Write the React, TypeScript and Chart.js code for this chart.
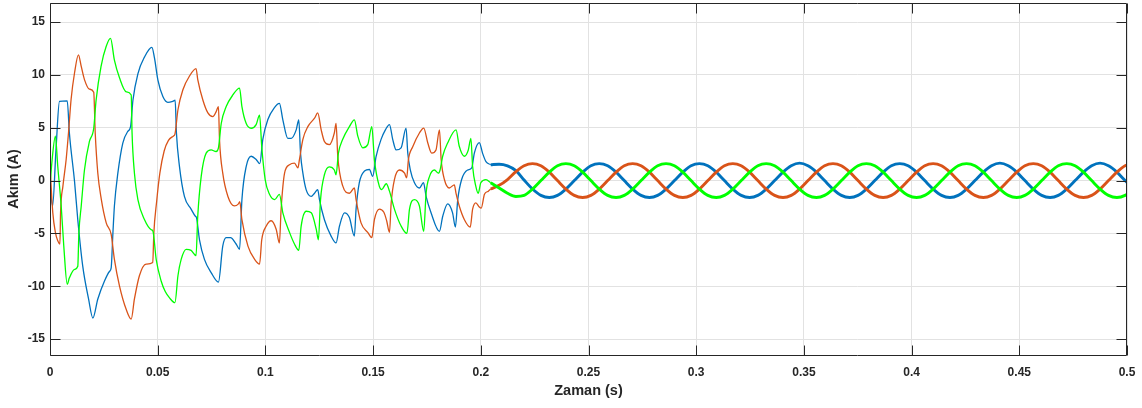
import React, { useEffect, useRef } from "react";
import { Chart, registerables } from "chart.js";

Chart.register(...registerables);

// ---- axis ticks ----
const xTickValues = [0, 0.05, 0.1, 0.15, 0.2, 0.25, 0.3, 0.35, 0.4, 0.45, 0.5];
const xTickLabels = ["0", "0.05", "0.1", "0.15", "0.2", "0.25", "0.3", "0.35", "0.4", "0.45", "0.5"];
const yTickValues = [-15, -10, -5, 0, 5, 10, 15];
const yTickLabels = ["-15", "-10", "-5", "0", "5", "10", "15"];

// ---- transient part (0 - 0.205 s) ----
const blueT = [0.0, 0.0012, 0.0028, 0.0044, 0.008, 0.009, 0.0114, 0.0129, 0.0152, 0.0179, 0.0199, 0.0222, 0.0253, 0.0276, 0.0284, 0.0292, 0.0299, 0.0315, 0.0338, 0.0361, 0.0374, 0.0385, 0.0408, 0.0439, 0.0473, 0.0485, 0.0501, 0.0524, 0.0547, 0.057, 0.0581, 0.0587, 0.0601, 0.0624, 0.0655, 0.0674, 0.068, 0.0694, 0.0717, 0.0748, 0.0782, 0.0802, 0.0818, 0.0838, 0.0864, 0.088, 0.0891, 0.0911, 0.0934, 0.0957, 0.0974, 0.0988, 0.1011, 0.1042, 0.1065, 0.1081, 0.1104, 0.112, 0.1143, 0.1155, 0.1163, 0.1174, 0.1189, 0.1213, 0.1228, 0.1243, 0.1251, 0.1274, 0.1305, 0.1328, 0.1344, 0.1367, 0.139, 0.1413, 0.1421, 0.1436, 0.146, 0.1483, 0.1498, 0.1514, 0.1537, 0.1557, 0.1576, 0.1591, 0.1607, 0.163, 0.1653, 0.1661, 0.1673, 0.1692, 0.1715, 0.1734, 0.1746, 0.1769, 0.1808, 0.1823, 0.1846, 0.1869, 0.1882, 0.1893, 0.1911, 0.1939, 0.1958, 0.197, 0.1993, 0.2008, 0.2024, 0.2046];
const blueV = [-0.4, -2.4, 3.0, 7.5, 7.55, 4.5, -0.1, -3.7, -8.1, -11.2, -13.0, -11.2, -9.5, -8.6, -8.25, -5.0, -2.4, 0.7, 3.55, 4.65, 5.1, 7.6, 10.1, 11.7, 12.6, 11.6, 9.5, 7.95, 7.4, 7.5, 7.6, 4.5, 1.35, -1.5, -2.7, -3.35, -3.5, -5.6, -7.45, -8.7, -9.6, -6.2, -5.4, -5.4, -6.0, -6.5, -1.8, 1.35, 2.3, 2.0, 1.6, 3.9, 5.75, 6.9, 7.3, 5.75, 4.0, 4.0, 4.8, 5.75, 2.6, 0.7, -0.85, -1.5, -1.2, -0.85, -1.8, -3.7, -5.25, -5.9, -4.3, -3.05, -3.5, -5.25, -2.7, -0.2, 0.9, 1.05, 0.4, 2.3, 3.9, 4.8, 5.3, 3.9, 2.9, 3.1, 4.97, 2.6, 1.0, -0.2, -0.7, -0.2, -1.5, -3.05, -4.8, -3.4, -2.2, -3.05, -4.4, -1.8, 0.1, 1.0, 1.2, 2.6, 3.6, 2.6, 1.8, 1.5];

const orangeT = [0.0, 0.0013, 0.0025, 0.0036, 0.0046, 0.0049, 0.006, 0.0075, 0.0086, 0.0098, 0.0114, 0.0132, 0.0145, 0.016, 0.0183, 0.0203, 0.021, 0.0222, 0.0238, 0.0261, 0.0284, 0.0299, 0.0323, 0.0354, 0.0377, 0.0392, 0.0415, 0.0446, 0.0477, 0.0482, 0.0495, 0.051, 0.053, 0.055, 0.0572, 0.058, 0.0594, 0.0617, 0.0648, 0.0678, 0.0686, 0.071, 0.0733, 0.0756, 0.0771, 0.0782, 0.0787, 0.0802, 0.0826, 0.0856, 0.0875, 0.0881, 0.0891, 0.0919, 0.095, 0.0973, 0.0983, 0.1004, 0.1027, 0.105, 0.1065, 0.1073, 0.1089, 0.1112, 0.1135, 0.1151, 0.1158, 0.1174, 0.1197, 0.1228, 0.1243, 0.1259, 0.1274, 0.1297, 0.132, 0.1328, 0.1336, 0.1359, 0.139, 0.1413, 0.1421, 0.1444, 0.1475, 0.1494, 0.1506, 0.1529, 0.155, 0.1563, 0.1576, 0.1584, 0.1599, 0.1622, 0.1646, 0.1656, 0.1664, 0.1684, 0.1715, 0.1735, 0.1754, 0.1772, 0.1792, 0.1808, 0.1816, 0.1831, 0.1854, 0.1877, 0.1885, 0.19, 0.1924, 0.1951, 0.1962, 0.1977, 0.1993, 0.2002, 0.2017, 0.2035, 0.2046];
const orangeV = [1.35, -3.05, -4.9, -5.7, -6.0, -3.05, -0.53, 2.0, 4.55, 7.7, 10.2, 11.9, 10.8, 9.55, 8.65, 8.35, 4.5, 0.7, -1.75, -4.0, -5.1, -7.45, -10.0, -12.2, -13.1, -11.2, -9.0, -7.9, -7.75, -5.0, -2.0, 0.7, 2.8, 3.8, 4.2, 4.4, 6.7, 8.6, 9.9, 10.6, 9.55, 7.6, 6.4, 6.05, 6.5, 7.0, 3.85, 0.7, -1.5, -2.4, -2.2, -2.0, -3.7, -6.2, -7.45, -7.9, -5.6, -4.3, -3.8, -4.6, -5.9, -2.7, 0.7, 1.5, 1.65, 1.2, 1.98, 3.9, 5.1, 5.9, 6.4, 4.8, 3.7, 3.4, 4.5, 5.4, 2.3, -0.5, -1.2, -0.7, -1.8, -4.0, -4.9, -5.4, -3.7, -2.7, -3.0, -3.8, -4.9, -2.1, 0.1, 1.0, 0.7, 0.25, 1.98, 3.2, 4.5, 4.97, 3.55, 2.6, 2.9, 4.8, 1.98, 0.1, -0.7, -0.4, -1.2, -2.4, -3.7, -4.4, -2.7, -2.1, -2.5, -2.6, -1.3, -1.0, -0.8];

const greenT = [0.0, 0.001, 0.0025, 0.0036, 0.0052, 0.0064, 0.008, 0.009, 0.0114, 0.0129, 0.0134, 0.0145, 0.016, 0.0183, 0.0203, 0.0214, 0.0237, 0.0261, 0.0281, 0.0299, 0.0323, 0.0354, 0.0377, 0.0381, 0.0392, 0.0408, 0.0439, 0.047, 0.0478, 0.0493, 0.0516, 0.0535, 0.0555, 0.058, 0.0594, 0.0609, 0.0632, 0.0655, 0.0678, 0.0686, 0.0702, 0.0725, 0.0748, 0.0771, 0.0782, 0.0795, 0.0818, 0.0849, 0.088, 0.0891, 0.0911, 0.0934, 0.0957, 0.0973, 0.0983, 0.0999, 0.1019, 0.1043, 0.1065, 0.1081, 0.1112, 0.1135, 0.1155, 0.1166, 0.1189, 0.1213, 0.1236, 0.1246, 0.1256, 0.1274, 0.1297, 0.132, 0.1328, 0.1339, 0.1359, 0.139, 0.1413, 0.1429, 0.1452, 0.1475, 0.1494, 0.1506, 0.1529, 0.154, 0.1561, 0.1576, 0.1599, 0.163, 0.1657, 0.1669, 0.1692, 0.1715, 0.1735, 0.1746, 0.1762, 0.1785, 0.1803, 0.1811, 0.1823, 0.1846, 0.1885, 0.19, 0.1924, 0.1942, 0.1954, 0.1962, 0.1977, 0.1988, 0.2, 0.2024, 0.2046];
const greenV = [-0.5, 2.0, 4.2, 1.35, -2.4, -6.2, -9.8, -9.2, -8.4, -8.1, -5.0, -2.4, 1.0, 3.7, 4.95, 7.6, 10.8, 12.7, 13.45, 11.4, 9.7, 8.4, 8.1, 4.5, 0.7, -1.8, -3.7, -4.65, -4.8, -7.45, -9.5, -10.5, -11.1, -11.55, -9.0, -7.45, -6.5, -6.6, -7.1, -3.35, 0.4, 2.6, 2.9, 2.75, 3.1, 5.4, 7.0, 8.1, 8.75, 7.0, 5.4, 4.95, 5.3, 6.2, 3.2, 0.1, -1.3, -1.8, -1.3, -3.05, -4.9, -6.0, -6.6, -4.3, -2.9, -3.05, -4.6, -5.6, -1.8, 0.55, 1.3, 1.0, 0.55, 2.6, 3.9, 5.1, 5.75, 4.2, 3.1, 3.4, 5.1, 1.98, -0.55, -0.85, -0.3, -1.0, -2.7, -4.3, -5.0, -2.7, -1.8, -2.4, -4.8, -1.2, 0.4, 1.0, 0.7, 1.0, 2.3, 3.55, 4.8, 3.25, 2.3, 2.9, 4.0, 1.35, -0.55, -1.2, -0.2, 0.1, -0.2];

// ---- steady state (0.205 - 0.5 s) ----
const steadyT = [0.2046, 0.2085, 0.2124, 0.2163, 0.2201, 0.224, 0.2279, 0.2318, 0.2356, 0.2395, 0.2434, 0.2473, 0.2511, 0.255, 0.2589, 0.2628, 0.2666, 0.2705, 0.2744, 0.2783, 0.2821, 0.286, 0.2899, 0.2938, 0.2976, 0.3015, 0.3054, 0.3093, 0.3131, 0.317, 0.3209, 0.3248, 0.3286, 0.3325, 0.3364, 0.3403, 0.3441, 0.348, 0.3519, 0.3558, 0.3596, 0.3635, 0.3674, 0.3713, 0.3751, 0.379, 0.3829, 0.3868, 0.3906, 0.3945, 0.3984, 0.4023, 0.4061, 0.41, 0.4139, 0.4178, 0.4216, 0.4255, 0.4294, 0.4333, 0.4371, 0.441, 0.4449, 0.4488, 0.4526, 0.4565, 0.4604, 0.4643, 0.4681, 0.472, 0.4759, 0.4798, 0.4836, 0.4875, 0.4914, 0.4953, 0.4991, 0.503];
const steadyBlue = [1.5, 1.55, 1.4, 0.95, 0.05, -0.8, -1.4, -1.6, -1.4, -0.8, 0, 0.8, 1.4, 1.6, 1.4, 0.8, 0, -0.8, -1.4, -1.6, -1.4, -0.8, 0, 0.8, 1.4, 1.6, 1.4, 0.8, 0, -0.8, -1.4, -1.6, -1.4, -0.8, 0, 0.8, 1.4, 1.65, 1.4, 0.8, 0, -0.8, -1.4, -1.6, -1.4, -0.8, 0, 0.8, 1.4, 1.6, 1.4, 0.8, 0, -0.8, -1.4, -1.6, -1.4, -0.8, 0, 0.8, 1.4, 1.65, 1.4, 0.8, 0, -0.8, -1.4, -1.6, -1.4, -0.8, 0, 0.8, 1.4, 1.65, 1.4, 0.8, 0, -0.8];
const steadyOrange = [-0.8, -0.45, 0.1, 0.85, 1.4, 1.6, 1.4, 0.8, 0, -0.8, -1.4, -1.6, -1.4, -0.8, 0, 0.8, 1.4, 1.6, 1.4, 0.8, 0, -0.8, -1.4, -1.6, -1.4, -0.8, 0, 0.8, 1.4, 1.6, 1.4, 0.8, 0, -0.8, -1.4, -1.6, -1.4, -0.8, 0, 0.8, 1.4, 1.6, 1.4, 0.8, 0, -0.8, -1.4, -1.6, -1.4, -0.8, 0, 0.8, 1.4, 1.6, 1.4, 0.8, 0, -0.8, -1.4, -1.6, -1.4, -0.8, 0, 0.8, 1.4, 1.6, 1.4, 0.8, 0, -0.8, -1.4, -1.6, -1.4, -0.8, 0, 0.8, 1.4, 1.6];
const steadyGreen = [-0.2, -0.7, -1.2, -1.5, -1.4, -0.8, 0, 0.8, 1.4, 1.6, 1.4, 0.8, 0, -0.8, -1.4, -1.6, -1.4, -0.8, 0, 0.8, 1.4, 1.6, 1.4, 0.8, 0, -0.8, -1.4, -1.6, -1.4, -0.8, 0, 0.8, 1.4, 1.6, 1.4, 0.8, 0, -0.8, -1.4, -1.6, -1.4, -0.8, 0, 0.8, 1.4, 1.6, 1.4, 0.8, 0, -0.8, -1.4, -1.6, -1.4, -0.8, 0, 0.8, 1.4, 1.6, 1.4, 0.8, 0, -0.8, -1.4, -1.6, -1.4, -0.8, 0, 0.8, 1.4, 1.6, 1.4, 0.8, 0, -0.8, -1.4, -1.6, -1.4, -0.8];

const BLUE = "#0072BD";
const ORANGE = "#D95319";
const GREEN = "#00FF00";
const AXIS = "#262626";
const FONT = "'Liberation Sans', Arial, Helvetica, sans-serif";

const toXY = (t: number[], v: number[]) => t.map((x, i) => ({ x, y: v[i] }));

const frameTicksPlugin = {
  id: "frameTicks",
  afterDatasetsDraw(chart: any) {
    const { ctx, chartArea, scales } = chart;
    const l = Math.round(chartArea.left) + 0.5;
    const r = Math.round(chartArea.right) - 0.5;
    const t = Math.round(chartArea.top) + 0.5;
    const b = Math.round(chartArea.bottom) + 0.5;
    ctx.save();
    ctx.strokeStyle = AXIS;
    ctx.lineWidth = 1;
    ctx.beginPath();
    ctx.rect(l, t, r - l, b - t);
    xTickValues.forEach((v) => {
      const px = Math.round(scales.x.getPixelForValue(v)) + 0.5;
      ctx.moveTo(px, b);
      ctx.lineTo(px, b - 10);
      ctx.moveTo(px, t);
      ctx.lineTo(px, t + 10);
    });
    yTickValues.forEach((v) => {
      const py = Math.round(scales.y.getPixelForValue(v)) + 0.5;
      ctx.moveTo(l, py);
      ctx.lineTo(l + 10, py);
      ctx.moveTo(r, py);
      ctx.lineTo(r - 10, py);
    });
    ctx.stroke();
    ctx.restore();
  },
};

export default function App() {
  const canvasRef = useRef<HTMLCanvasElement | null>(null);

  useEffect(() => {
    const canvas = canvasRef.current;
    if (!canvas) return;
    const thin = 1.3;
    const thick = 2.9;
    const chart = new Chart(canvas, {
      type: "line",
      data: {
        datasets: [
          { label: "a", data: toXY(blueT, blueV), borderColor: BLUE, borderWidth: thin, pointRadius: 0, cubicInterpolationMode: "monotone", order: 2 },
          { label: "b", data: toXY(orangeT, orangeV), borderColor: ORANGE, borderWidth: thin, pointRadius: 0, cubicInterpolationMode: "monotone", order: 1 },
          { label: "c", data: toXY(greenT, greenV), borderColor: GREEN, borderWidth: thin, pointRadius: 0, cubicInterpolationMode: "monotone", order: 0 },
          { label: "a2", data: toXY(steadyT, steadyBlue), borderColor: BLUE, borderWidth: thick, pointRadius: 0, cubicInterpolationMode: "monotone", order: 2 },
          { label: "b2", data: toXY(steadyT, steadyOrange), borderColor: ORANGE, borderWidth: thick, pointRadius: 0, cubicInterpolationMode: "monotone", order: 1 },
          { label: "c2", data: toXY(steadyT, steadyGreen), borderColor: GREEN, borderWidth: thick, pointRadius: 0, cubicInterpolationMode: "monotone", order: 0 },
        ] as any,
      },
      options: {
        animation: false,
        responsive: false,
        devicePixelRatio: 1,
        parsing: false as any,
        layout: { padding: { left: 0, right: 15, top: 3, bottom: 0 } },
        plugins: { legend: { display: false }, tooltip: { enabled: false } },
        events: [],
        scales: {
          x: {
            type: "linear",
            min: 0,
            max: 0.5,
            afterFit: (s: any) => {
              s.height = 53;
              s.paddingLeft = 0;
              s.paddingRight = 0;
            },
            grid: { color: "#e2e2e2", lineWidth: 1, drawTicks: false },
            border: { display: false },
            ticks: {
              stepSize: 0.05,
              autoSkip: false,
              maxRotation: 0,
              includeBounds: false,
              padding: 10,
              color: AXIS,
              font: { family: FONT, size: 12, weight: "bold" },
              callback: (value: any) => {
                const i = xTickValues.findIndex((v) => Math.abs(v - Number(value)) < 1e-9);
                return i >= 0 ? xTickLabels[i] : "";
              },
            },
            title: {
              display: true,
              text: "Zaman (s)",
              color: AXIS,
              font: { family: FONT, size: 14.5, weight: "bold" },
              padding: { top: 0, bottom: 8 },
            },
          },
          y: {
            type: "linear",
            min: -16.5,
            max: 16.8,
            afterFit: (s: any) => {
              s.width = 50;
              s.paddingTop = 0;
              s.paddingBottom = 0;
            },
            grid: { color: "#e2e2e2", lineWidth: 1, drawTicks: false },
            border: { display: false },
            ticks: {
              stepSize: 5,
              includeBounds: false,
              padding: 5,
              color: AXIS,
              font: { family: FONT, size: 12, weight: "bold" },
              callback: (value: any) => {
                const i = yTickValues.findIndex((v) => Math.abs(v - Number(value)) < 1e-9);
                return i >= 0 ? yTickLabels[i] : "";
              },
            },
            title: {
              display: true,
              text: "Akım (A)",
              color: AXIS,
              font: { family: FONT, size: 14.5, weight: "bold" },
              padding: { top: 5, bottom: 0 },
            },
          },
        },
      } as any,
      plugins: [frameTicksPlugin],
    });
    return () => chart.destroy();
  }, []);

  return (
    <div style={{ position: "absolute", left: 0, top: 0, width: 1142, height: 408, background: "#ffffff" }}>
      <canvas ref={canvasRef} width={1142} height={408} style={{ width: 1142, height: 408, display: "block" }} />
    </div>
  );
}
